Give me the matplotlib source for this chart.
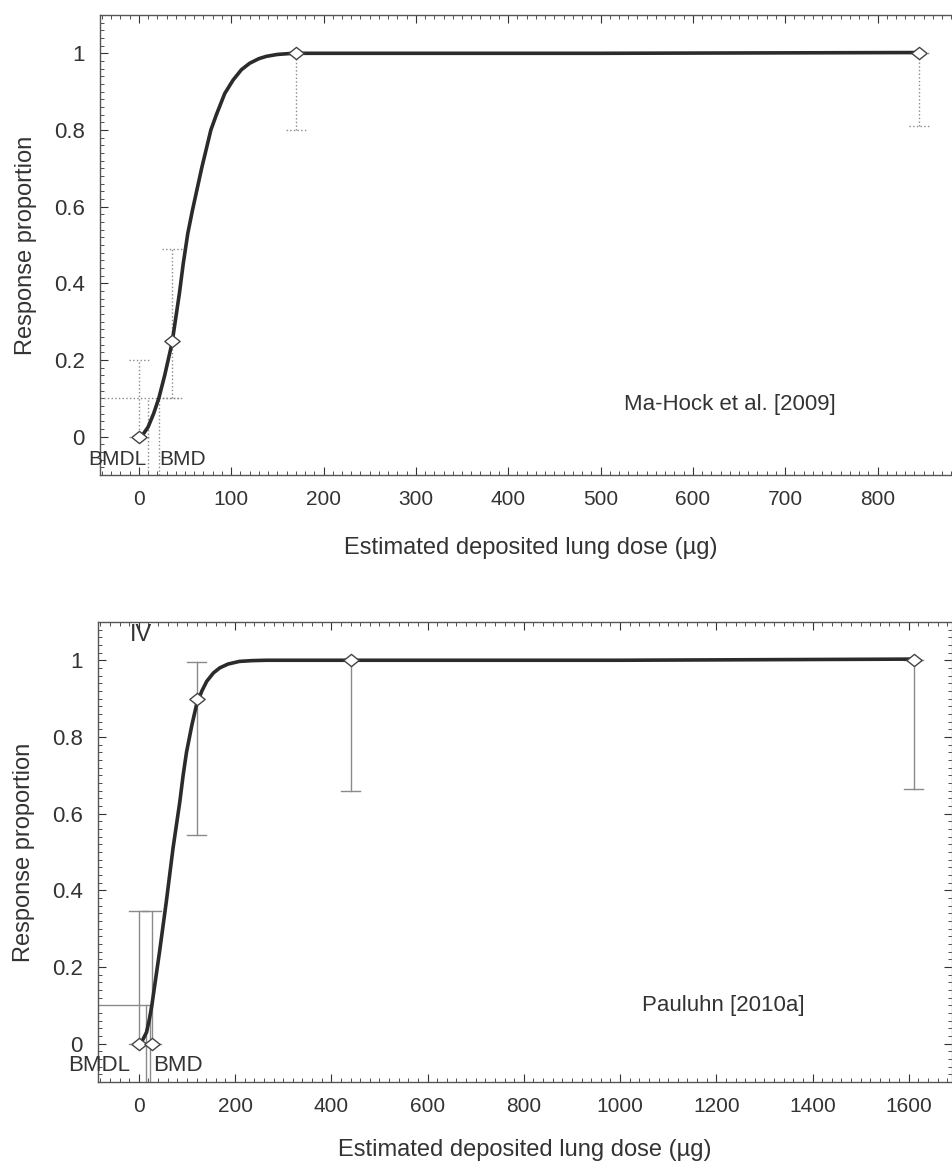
import numpy as np
import matplotlib.pyplot as plt
from matplotlib.path import Path
from matplotlib.ticker import MultipleLocator, FixedLocator

plt.rcParams['font.family'] = ['Liberation Sans', 'DejaVu Sans']

# Ma-Hock et al. [2009]
dosis_a = [0, 36, 170, 845]
resp_a = [0.0, 0.25, 1.0, 1.0]
inf_a = [0.0, 0.10, 0.80, 0.81]
sup_a = [0.20, 0.49, 1.0, 1.0]
curva_xa = [0, 4, 10, 16, 21.6, 28, 36, 40, 44, 48, 53, 58, 63, 68, 73, 78, 84, 93, 102, 111, 120, 130, 138, 150, 167, 300, 500, 845]
curva_ya = [0, 0.004, 0.025, 0.06, 0.10, 0.16, 0.245, 0.31, 0.375, 0.45, 0.53, 0.59, 0.645, 0.70, 0.75, 0.80, 0.84, 0.895, 0.93, 0.957, 0.974, 0.986, 0.992, 0.997, 1.0, 1.0, 1.0, 1.002]
bmdl_a, bmd_a, bmr_a = 9.7, 21.6, 0.1

# Pauluhn [2010a]
dosis_b = [0, 27, 120, 440, 1610]
resp_b = [0.0, 0.0, 0.90, 1.0, 1.0]
inf_b = [0.0, 0.0, 0.545, 0.66, 0.665]
sup_b = [0.345, 0.345, 0.995, 1.0, 1.0]
curva_xb = [0, 8, 16, 22, 27, 35, 43, 50, 57, 64, 71, 78, 85, 92, 99, 110, 120, 131, 141, 155, 168, 185, 209, 235, 265, 600, 1000, 1610]
curva_yb = [0, 0.01, 0.03, 0.065, 0.10, 0.17, 0.24, 0.305, 0.37, 0.44, 0.51, 0.57, 0.63, 0.70, 0.76, 0.83, 0.885, 0.92, 0.945, 0.967, 0.98, 0.99, 0.997, 0.999, 1.0, 1.0, 1.0, 1.003]
bmdl_b, bmd_b, bmr_b = 15, 23, 0.1

# rombo, algo más ancho que alto
rombo = Path([(-1, 0), (0, 0.8), (1, 0), (0, -0.8), (-1, 0)],
             [Path.MOVETO, Path.LINETO, Path.LINETO, Path.LINETO, Path.CLOSEPOLY])

gris = '#8a8a8a'
oscuro = '#2b2b2b'
texto = '#333333'

fig = plt.figure(figsize=(9.53, 11.69), dpi=100)
ax1 = fig.add_axes([0.105, 0.5937, 0.903, 0.3935])
ax2 = fig.add_axes([0.1028, 0.0744, 0.8962, 0.3936])


def panel(ax, x, y, lo, hi, cx, cy, bmdl, bmd, bmr, xmin, xmax, cap, ls, ancho_bmr):
    ax.set_xlim(xmin, xmax)
    ax.set_ylim(-0.1, 1.1)
    for xi, l, h in zip(x, lo, hi):
        ax.plot([xi, xi], [l, h], color=gris, lw=1, ls=ls)
        ax.plot([xi - cap, xi + cap], [h, h], color=gris, lw=1, ls=ls)
        ax.plot([xi - cap, xi + cap], [l, l], color=gris, lw=1, ls=ls)
    ax.plot([xmin, ancho_bmr], [bmr, bmr], color=gris, lw=1, ls=ls)
    ax.plot([bmdl, bmdl], [-0.1, bmr], color=gris, lw=1, ls=ls)
    ax.plot([bmd, bmd], [-0.1, bmr], color=gris, lw=1, ls=ls)
    ax.plot(cx, cy, color=oscuro, lw=2.6, zorder=3)
    ax.plot(x, y, ls='none', marker=rombo, ms=11, mfc='white', mec='#444444', mew=1, zorder=4)
    ax.tick_params(which='both', direction='in', top=True, right=True, colors=texto, pad=11)
    ax.tick_params(axis='x', labelsize=15)
    ax.tick_params(axis='y', labelsize=16)
    ax.tick_params(which='major', length=6)
    ax.tick_params(which='minor', length=3)
    ax.yaxis.set_major_locator(FixedLocator([0, 0.2, 0.4, 0.6, 0.8, 1]))
    ax.set_yticklabels(['0', '0.2', '0.4', '0.6', '0.8', '1'])
    ax.yaxis.set_minor_locator(MultipleLocator(0.02))
    for s in ax.spines.values():
        s.set_color('#555555')
        s.set_linewidth(1)
    ax.set_ylabel('Response proportion', fontsize=17, color=texto, labelpad=12)


panel(ax1, dosis_a, resp_a, inf_a, sup_a, curva_xa, curva_ya, bmdl_a, bmd_a, bmr_a,
      -42, 890, 11, ':', 45)
ax1.xaxis.set_major_locator(MultipleLocator(100))
ax1.xaxis.set_minor_locator(MultipleLocator(10))
ax1.set_xlabel('Estimated deposited lung dose (µg)', fontsize=17, color=texto, labelpad=20)
ax1.text(bmdl_a - 1, -0.085, 'BMDL', ha='right', va='bottom', fontsize=15, color=texto)
ax1.text(bmd_a + 1, -0.085, 'BMD', ha='left', va='bottom', fontsize=15, color=texto)
ax1.text(640, 0.085, 'Ma-Hock et al. [2009]', ha='center', va='center', fontsize=16, color=texto)

panel(ax2, dosis_b, resp_b, inf_b, sup_b, curva_xb, curva_yb, bmdl_b, bmd_b, bmr_b,
      -85, 1690, 20, '-', bmd_b)
ax2.spines['right'].set_color('#bbbbbb')
ax2.xaxis.set_major_locator(MultipleLocator(200))
ax2.xaxis.set_minor_locator(MultipleLocator(20))
ax2.set_xlabel('Estimated deposited lung dose (µg)', fontsize=17, color=texto, labelpad=16)
ax2.text(-19, -0.085, 'BMDL', ha='right', va='bottom', fontsize=16, color=texto)
ax2.text(29, -0.085, 'BMD', ha='left', va='bottom', fontsize=16, color=texto)
ax2.text(1215, 0.10, 'Pauluhn [2010a]', ha='center', va='center', fontsize=16, color=texto)
ax2.text(5, 1.065, 'IV', ha='center', va='center', fontsize=17, color=texto)

fig.savefig('out.png', dpi=100)
